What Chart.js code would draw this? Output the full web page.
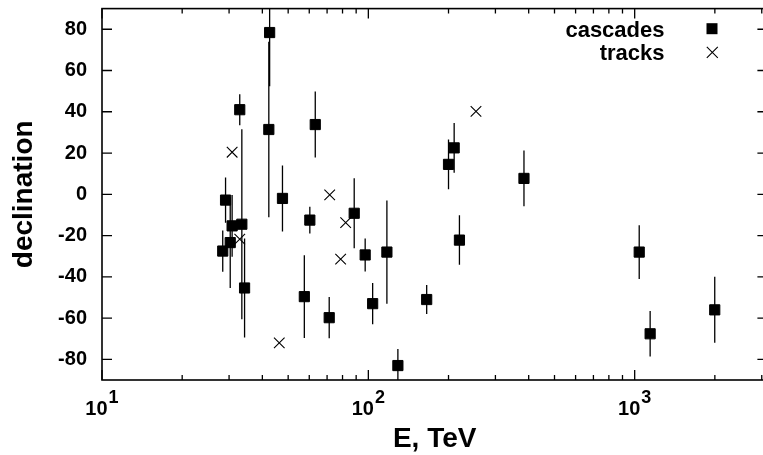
<!DOCTYPE html>
<html>
<head>
<meta charset="utf-8">
<script src="https://cdn.jsdelivr.net/npm/chart.js@4.4.1/dist/chart.umd.min.js"></script>
<style>
  html, body { margin: 0; padding: 0; overflow: hidden; background: #fff; }
  #wrap { position: relative; width: 776px; height: 455px; }
</style>
</head>
<body>
<div id="wrap"><canvas id="chart-area"></canvas></div>
<script>
// cascades: energy (TeV), declination (deg), declination error (deg)
var cascadeE   = [28.4, 29.1, 30.8, 30.3, 32.9, 33.5, 34.3, 42.3, 42.6, 47.6, 57.5, 60.3, 63.2, 71.3,
                  88.5, 97.3, 103.8, 117.4, 129.1, 165.6, 200, 210, 219.8, 384, 1040, 1143, 1998];
var cascadeDec = [-27.5, -2.8, -15.3, -23.4, 41.0, -14.5, -45.4, 31.4, 78.4, -2.0, -49.6, -12.5, 33.8, -59.8,
                  -9.2, -29.4, -53.0, -28.0, -83.0, -51.0, 14.5, 22.5, -22.2, 7.7, -28.0, -67.6, -56.0];
var cascadeErr = [10, 11, 15, 22, 7.5, 46, 24, 42.5, 26, 16, 20, 6.5, 16, 10,
                  17, 8, 10, 25, 8, 7, 12, 12, 12, 13.5, 13, 11, 16];

// tracks
var trackE   = [30.8, 32.9, 46.3, 71.6, 78.7, 82.2, 253.6];
var trackDec = [20.4, -21.7, -72.0, -0.3, -31.4, -13.7, 40.2];

// axes
var yTickValues = [-80, -60, -40, -20, 0, 20, 40, 60, 80];
var xMajor = [10, 100, 1000];
var xMajorExp = ['1', '2', '3'];
var xMin = 10, xMax = 3150, yMin = -90, yMax = 90;

var FONT = '"Liberation Sans", Arial, Helvetica, sans-serif';

var datasets = [];
datasets.push({
    label: 'cascades',
    data: cascadeE.map(function(e, i) { return {x: e, y: cascadeDec[i]}; }),
    pointStyle: 'rect',
    pointRadius: 7.2,
    backgroundColor: '#000',
    borderColor: '#000',
    borderWidth: 1,
    order: 1
});
datasets.push({
    label: 'tracks',
    data: trackE.map(function(e, i) { return {x: e, y: trackDec[i]}; }),
    pointStyle: 'crossRot',
    pointRadius: 7.5,
    backgroundColor: '#000',
    borderColor: '#000',
    borderWidth: 1.1,
    order: 1
});
// one small line dataset per error bar
cascadeE.forEach(function(e, i) {
    datasets.push({
        type: 'line',
        label: 'err',
        data: [{x: e, y: cascadeDec[i] - cascadeErr[i]}, {x: e, y: cascadeDec[i] + cascadeErr[i]}],
        showLine: true,
        borderColor: '#000',
        borderWidth: 1.3,
        pointRadius: 0,
        order: 2
    });
});

function noPad(scale) {
    scale.paddingTop = 0;
    scale.paddingBottom = 0;
    scale.paddingLeft = 0;
    scale.paddingRight = 0;
}

var framePlugin = {
    id: 'frame',
    afterDatasetsDraw: function(chart) {
        var ctx = chart.ctx, a = chart.chartArea;
        var xs = chart.scales.x, ys = chart.scales.y;
        ctx.save();
        ctx.strokeStyle = '#000';
        ctx.fillStyle = '#000';
        ctx.lineWidth = 1.6;
        ctx.strokeRect(a.left, a.top, a.right - a.left, a.bottom - a.top);

        // inward ticks
        ctx.lineWidth = 1.3;
        ctx.beginPath();
        yTickValues.forEach(function(v) {
            var py = ys.getPixelForValue(v);
            ctx.moveTo(a.left, py); ctx.lineTo(a.left + 10, py);
            ctx.moveTo(a.right, py); ctx.lineTo(a.right - 10, py);
        });
        xMajor.forEach(function(d) {
            for (var m = 1; m <= 9; m++) {
                var v = d * m;
                if (v > xMax) break;
                var px = xs.getPixelForValue(v);
                var len = m === 1 ? 10 : 5;
                ctx.moveTo(px, a.bottom); ctx.lineTo(px, a.bottom - len);
                ctx.moveTo(px, a.top); ctx.lineTo(px, a.top + len);
            }
        });
        ctx.stroke();

        // x tick labels as 10^n
        ctx.textAlign = 'left';
        ctx.textBaseline = 'alphabetic';
        xMajor.forEach(function(v, i) {
            var px = xs.getPixelForValue(v);
            ctx.font = 'bold 20px ' + FONT;
            var w1 = ctx.measureText('10').width;
            ctx.font = 'bold 18px ' + FONT;
            var w2 = ctx.measureText(xMajorExp[i]).width;
            var x0 = px - (w1 + w2 + 1) / 2;
            ctx.font = 'bold 20px ' + FONT;
            ctx.fillText('10', x0, 414.5);
            ctx.font = 'bold 18px ' + FONT;
            ctx.fillText(xMajorExp[i], x0 + w1 + 1, 403);
        });

        // key
        ctx.font = 'bold 22px ' + FONT;
        ctx.textAlign = 'right';
        ctx.fillText(chart.data.datasets[0].label, 664.5, 36.5);
        ctx.fillText(chart.data.datasets[1].label, 664.5, 60);
        ctx.fillRect(706.5, 23.2, 11, 11);
        ctx.lineWidth = 1.1;
        ctx.beginPath();
        ctx.moveTo(706.8, 46.8); ctx.lineTo(717.8, 57.8);
        ctx.moveTo(717.8, 46.8); ctx.lineTo(706.8, 57.8);
        ctx.stroke();
        ctx.restore();
    }
};

var config = {
    type: 'scatter',
    data: { datasets: datasets },
    options: {
        responsive: true,
        maintainAspectRatio: false,
        animation: false,
        events: [],
        layout: { padding: { top: 7, right: 3, left: 0, bottom: 0 } },
        plugins: {
            legend: { display: false },
            tooltip: { enabled: false }
        },
        scales: {
            x: {
                type: 'logarithmic',
                position: 'bottom',
                min: xMin,
                max: xMax,
                grid: { display: false, drawTicks: false },
                border: { display: false },
                ticks: { display: false },
                title: {
                    display: true,
                    text: 'E, TeV',
                    color: '#000',
                    font: { family: FONT, size: 28, weight: 'bold', lineHeight: 1 },
                    padding: { top: 0, bottom: 2 }
                },
                afterFit: function(scale) { scale.height = 75; noPad(scale); }
            },
            y: {
                type: 'linear',
                min: yMin,
                max: yMax,
                grid: { display: false, drawTicks: false },
                border: { display: false },
                ticks: {
                    color: '#000',
                    padding: 15,
                    font: { family: FONT, size: 20, weight: 'bold' }
                },
                afterBuildTicks: function(scale) {
                    scale.ticks = yTickValues.map(function(v) { return {value: v}; });
                },
                title: {
                    display: true,
                    text: 'declination',
                    color: '#000',
                    font: { family: FONT, size: 28, weight: 'bold', lineHeight: 1 },
                    padding: { top: 10, bottom: 0 }
                },
                afterFit: function(scale) { scale.width = 102; noPad(scale); }
            }
        }
    },
    plugins: [framePlugin]
};

var ctx = document.getElementById("chart-area").getContext("2d");
var myChart = new Chart(ctx, config);
</script>
</body>
</html>
